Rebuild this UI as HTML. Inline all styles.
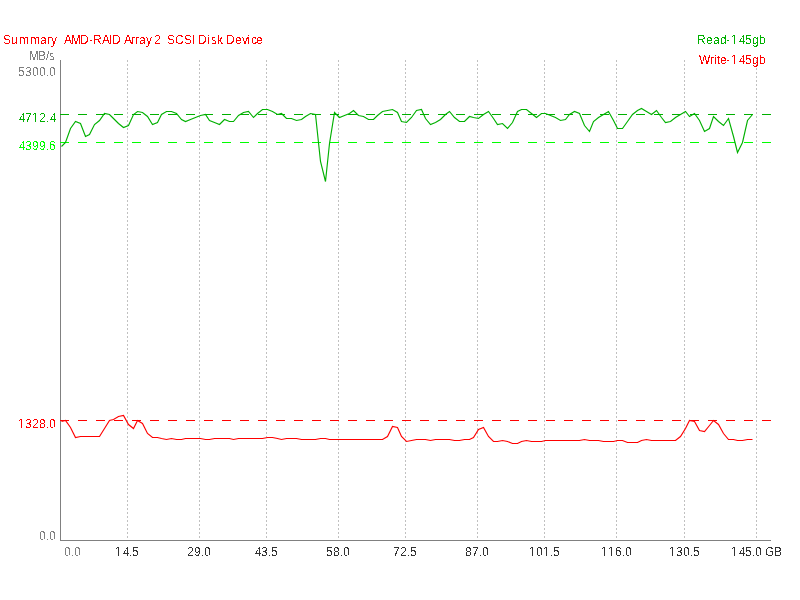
<!DOCTYPE html>
<html><head><meta charset="utf-8"><title>Summary AMD-RAID Array 2 SCSI Disk Device</title>
<style>html,body{margin:0;padding:0;background:#fff;width:800px;height:600px;overflow:hidden}svg{display:block}</style>
</head><body>
<svg width="800" height="600" viewBox="0 0 800 600">
<rect width="800" height="600" fill="#fff"/>
<defs><filter id="cr" filterUnits="userSpaceOnUse" x="0" y="0" width="800" height="600" color-interpolation-filters="sRGB"><feComponentTransfer in="SourceAlpha" result="a"><feFuncA type="discrete" tableValues="0 1"/></feComponentTransfer><feFlood flood-color="#ff0000" result="f"/><feComposite in="f" in2="a" operator="in"/></filter><filter id="cg" filterUnits="userSpaceOnUse" x="0" y="0" width="800" height="600" color-interpolation-filters="sRGB"><feComponentTransfer in="SourceAlpha" result="a"><feFuncA type="discrete" tableValues="0 1"/></feComponentTransfer><feFlood flood-color="#00b000" result="f"/><feComposite in="f" in2="a" operator="in"/></filter><filter id="cG" filterUnits="userSpaceOnUse" x="0" y="0" width="800" height="600" color-interpolation-filters="sRGB"><feComponentTransfer in="SourceAlpha" result="a"><feFuncA type="discrete" tableValues="0 1"/></feComponentTransfer><feFlood flood-color="#00ff00" result="f"/><feComposite in="f" in2="a" operator="in"/></filter><filter id="ck" filterUnits="userSpaceOnUse" x="0" y="0" width="800" height="600" color-interpolation-filters="sRGB"><feComponentTransfer in="SourceAlpha" result="a"><feFuncA type="discrete" tableValues="0 1"/></feComponentTransfer><feFlood flood-color="#808080" result="f"/><feComposite in="f" in2="a" operator="in"/></filter><filter id="cd" filterUnits="userSpaceOnUse" x="0" y="0" width="800" height="600" color-interpolation-filters="sRGB"><feComponentTransfer in="SourceAlpha" result="a"><feFuncA type="discrete" tableValues="0 1"/></feComponentTransfer><feFlood flood-color="#333333" result="f"/><feComposite in="f" in2="a" operator="in"/></filter></defs>
<line x1="127.5" y1="60" x2="127.5" y2="540" stroke="#c0c0c0" stroke-width="1" stroke-dasharray="2 2" shape-rendering="crispEdges"/>
<line x1="199.5" y1="60" x2="199.5" y2="540" stroke="#c0c0c0" stroke-width="1" stroke-dasharray="2 2" shape-rendering="crispEdges"/>
<line x1="266.5" y1="60" x2="266.5" y2="540" stroke="#c0c0c0" stroke-width="1" stroke-dasharray="2 2" shape-rendering="crispEdges"/>
<line x1="338.5" y1="60" x2="338.5" y2="540" stroke="#c0c0c0" stroke-width="1" stroke-dasharray="2 2" shape-rendering="crispEdges"/>
<line x1="405.5" y1="60" x2="405.5" y2="540" stroke="#c0c0c0" stroke-width="1" stroke-dasharray="2 2" shape-rendering="crispEdges"/>
<line x1="477.5" y1="60" x2="477.5" y2="540" stroke="#c0c0c0" stroke-width="1" stroke-dasharray="2 2" shape-rendering="crispEdges"/>
<line x1="544.5" y1="60" x2="544.5" y2="540" stroke="#c0c0c0" stroke-width="1" stroke-dasharray="2 2" shape-rendering="crispEdges"/>
<line x1="616.5" y1="60" x2="616.5" y2="540" stroke="#c0c0c0" stroke-width="1" stroke-dasharray="2 2" shape-rendering="crispEdges"/>
<line x1="684.5" y1="60" x2="684.5" y2="540" stroke="#c0c0c0" stroke-width="1" stroke-dasharray="2 2" shape-rendering="crispEdges"/>
<line x1="756.5" y1="60" x2="756.5" y2="540" stroke="#c0c0c0" stroke-width="1" stroke-dasharray="2 2" shape-rendering="crispEdges"/>
<line x1="60.5" y1="60" x2="60.5" y2="541" stroke="#808080" stroke-width="1" shape-rendering="crispEdges"/>
<line x1="60" y1="540.5" x2="771" y2="540.5" stroke="#808080" stroke-width="1" shape-rendering="crispEdges"/>
<line x1="60" y1="114.5" x2="771" y2="114.5" stroke="#00b000" stroke-width="1" stroke-dasharray="9 9" shape-rendering="crispEdges"/>
<line x1="60" y1="142.5" x2="771" y2="142.5" stroke="#00ff00" stroke-width="1" stroke-dasharray="9 9" shape-rendering="crispEdges"/>
<line x1="60" y1="420.5" x2="771" y2="420.5" stroke="#ff0000" stroke-width="1" stroke-dasharray="9 9" shape-rendering="crispEdges"/>
<polyline points="61.5,146.5 65.5,142.5 70.5,128.5 75.5,121.5 80.5,123.5 85.5,136.5 89.5,134.5 94.5,124.5 99.5,120.5 104.5,113.5 109.5,114.5 113.5,118.5 118.5,123.5 123.5,127.5 128.5,125.5 133.5,114.5 137.5,111.5 142.5,112.5 147.5,116.5 152.5,124.5 157.5,122.5 161.5,114.5 166.5,111.5 171.5,111.5 176.5,113.5 181.5,119.5 185.5,121.5 190.5,119.5 195.5,117.5 200.5,115.5 205.5,114.5 209.5,120.5 214.5,122.5 219.5,124.5 224.5,119.5 229.5,121.5 233.5,121.5 238.5,115.5 243.5,112.5 248.5,111.5 253.5,117.5 257.5,113.5 262.5,109.5 267.5,109.5 272.5,111.5 277.5,114.5 281.5,113.5 286.5,118.5 291.5,118.5 296.5,120.5 301.5,119.5 305.5,116.5 310.5,113.5 315.5,114.5 320.5,161.5 325.5,181.5 329.5,143.5 334.5,112.5 339.5,117.5 344.5,115.5 349.5,113.5 353.5,110.5 358.5,115.5 363.5,116.5 368.5,119.5 373.5,119.5 377.5,115.5 382.5,111.5 387.5,110.5 392.5,109.5 397.5,112.5 401.5,121.5 406.5,122.5 411.5,117.5 416.5,110.5 421.5,109.5 425.5,118.5 430.5,124.5 435.5,122.5 440.5,119.5 445.5,114.5 449.5,111.5 454.5,117.5 459.5,121.5 464.5,121.5 469.5,116.5 473.5,117.5 478.5,118.5 483.5,114.5 488.5,111.5 493.5,118.5 497.5,124.5 502.5,123.5 507.5,128.5 512.5,122.5 517.5,111.5 521.5,109.5 526.5,109.5 531.5,113.5 536.5,117.5 541.5,113.5 545.5,113.5 550.5,115.5 555.5,117.5 560.5,120.5 565.5,119.5 569.5,114.5 574.5,111.5 579.5,113.5 584.5,125.5 589.5,131.5 593.5,121.5 598.5,117.5 603.5,114.5 608.5,111.5 613.5,120.5 617.5,128.5 622.5,128.5 627.5,121.5 632.5,114.5 637.5,110.5 641.5,108.5 646.5,111.5 651.5,114.5 656.5,110.5 661.5,117.5 665.5,122.5 670.5,121.5 675.5,117.5 680.5,114.5 685.5,111.5 689.5,116.5 694.5,113.5 699.5,120.5 704.5,131.5 709.5,128.5 713.5,116.5 718.5,121.5 723.5,125.5 728.5,118.5 733.5,136.5 737.5,152.5 742.5,142.5 747.5,120.5 752.5,114.5" fill="none" stroke="#00b000" stroke-width="1.15"/>
<polyline points="61.5,421.5 65.5,420.5 70.5,427.5 75.5,437.5 80.5,436.5 85.5,436.5 89.5,436.5 94.5,436.5 99.5,436.5 104.5,428.5 109.5,420.5 113.5,419.5 118.5,416.5 123.5,415.5 128.5,424.5 133.5,428.5 137.5,420.5 142.5,423.5 147.5,433.5 152.5,437.5 157.5,437.5 161.5,438.5 166.5,439.5 171.5,438.5 176.5,439.5 181.5,439.5 185.5,438.5 190.5,438.5 195.5,438.5 200.5,438.5 205.5,439.5 209.5,439.5 214.5,438.5 219.5,438.5 224.5,438.5 229.5,438.5 233.5,439.5 238.5,438.5 243.5,438.5 248.5,438.5 253.5,438.5 257.5,438.5 262.5,438.5 267.5,437.5 272.5,437.5 277.5,438.5 281.5,439.5 286.5,438.5 291.5,438.5 296.5,438.5 301.5,439.5 305.5,439.5 310.5,439.5 315.5,439.5 320.5,438.5 325.5,438.5 329.5,439.5 334.5,439.5 339.5,439.5 344.5,439.5 349.5,439.5 353.5,439.5 358.5,439.5 363.5,439.5 368.5,439.5 373.5,439.5 377.5,439.5 382.5,439.5 387.5,436.5 392.5,426.5 397.5,427.5 401.5,436.5 406.5,441.5 411.5,440.5 416.5,439.5 421.5,439.5 425.5,439.5 430.5,440.5 435.5,439.5 440.5,439.5 445.5,439.5 449.5,439.5 454.5,440.5 459.5,440.5 464.5,439.5 469.5,439.5 473.5,437.5 478.5,429.5 483.5,427.5 488.5,436.5 493.5,441.5 497.5,441.5 502.5,440.5 507.5,441.5 512.5,443.5 517.5,443.5 521.5,441.5 526.5,440.5 531.5,441.5 536.5,441.5 541.5,441.5 545.5,440.5 550.5,440.5 555.5,440.5 560.5,440.5 565.5,440.5 569.5,440.5 574.5,440.5 579.5,440.5 584.5,439.5 589.5,440.5 593.5,440.5 598.5,440.5 603.5,441.5 608.5,441.5 613.5,441.5 617.5,440.5 622.5,440.5 627.5,442.5 632.5,442.5 637.5,442.5 641.5,440.5 646.5,439.5 651.5,440.5 656.5,440.5 661.5,440.5 665.5,440.5 670.5,440.5 675.5,440.5 680.5,436.5 685.5,428.5 689.5,420.5 694.5,421.5 699.5,430.5 704.5,431.5 709.5,425.5 713.5,420.5 718.5,424.5 723.5,433.5 728.5,439.5 733.5,439.5 737.5,440.5 742.5,440.5 747.5,439.5 752.5,439.5" fill="none" stroke="#ff0000" stroke-width="1.15"/>
<text x="3 11 19 30 40 47 51 56 59 64 71 80 89 93 102 109 112 120 124 131 135 139 146 151 154 160 163 167 175 184 192 194 198 207 211 217 223 226 235 242 247 251 256" y="44" font-family="Liberation Sans, Arial, sans-serif" font-size="12" fill="#000" style="white-space:pre" filter="url(#cr)">Summary  AMD-RAID Array 2  SCSI Disk Device</text>
<text x="697 706 713 720 726 731 739 745 752 759" y="44" font-family="Liberation Sans, Arial, sans-serif" font-size="12" fill="#000" style="white-space:pre" filter="url(#cg)">Read-145gb</text>
<text x="699 710 714 717 720 726 731 739 745 752 759" y="64" font-family="Liberation Sans, Arial, sans-serif" font-size="12" fill="#000" style="white-space:pre" filter="url(#cr)">Write-145gb</text>
<text x="29 38 46 49" y="60" font-family="Liberation Sans, Arial, sans-serif" font-size="12" fill="#000" style="white-space:pre" filter="url(#ck)">MB/s</text>
<text x="18 25 32 39 46 49" y="76" font-family="Liberation Sans, Arial, sans-serif" font-size="12" fill="#000" style="white-space:pre" filter="url(#ck)">5300.0</text>
<text x="19 25 32 39 46 50" y="122" font-family="Liberation Sans, Arial, sans-serif" font-size="12" fill="#000" style="white-space:pre" filter="url(#cg)">4712.4</text>
<text x="19 25 32 39 46 49" y="150" font-family="Liberation Sans, Arial, sans-serif" font-size="12" fill="#000" style="white-space:pre" filter="url(#cG)">4399.6</text>
<text x="18 25 32 39 46 49" y="428" font-family="Liberation Sans, Arial, sans-serif" font-size="12" fill="#000" style="white-space:pre" filter="url(#cr)">1328.0</text>
<text x="39 46 49" y="540" font-family="Liberation Sans, Arial, sans-serif" font-size="12" fill="#000" style="white-space:pre" filter="url(#ck)">0.0</text>
<text x="64 71 74" y="556" font-family="Liberation Sans, Arial, sans-serif" font-size="12" fill="#000" style="white-space:pre" filter="url(#ck)">0.0</text>
<text x="115 123 129 132" y="556" font-family="Liberation Sans, Arial, sans-serif" font-size="12" fill="#000" style="white-space:pre" filter="url(#cd)">14.5</text>
<text x="187 194 201 204" y="556" font-family="Liberation Sans, Arial, sans-serif" font-size="12" fill="#000" style="white-space:pre" filter="url(#cd)">29.0</text>
<text x="255 261 268 271" y="556" font-family="Liberation Sans, Arial, sans-serif" font-size="12" fill="#000" style="white-space:pre" filter="url(#cd)">43.5</text>
<text x="326 333 340 343" y="556" font-family="Liberation Sans, Arial, sans-serif" font-size="12" fill="#000" style="white-space:pre" filter="url(#cd)">58.0</text>
<text x="393 400 407 410" y="556" font-family="Liberation Sans, Arial, sans-serif" font-size="12" fill="#000" style="white-space:pre" filter="url(#cd)">72.5</text>
<text x="465 472 479 482" y="556" font-family="Liberation Sans, Arial, sans-serif" font-size="12" fill="#000" style="white-space:pre" filter="url(#cd)">87.0</text>
<text x="529 536 543 550 553" y="556" font-family="Liberation Sans, Arial, sans-serif" font-size="12" fill="#000" style="white-space:pre" filter="url(#cd)">101.5</text>
<text x="601 608 615 622 625" y="556" font-family="Liberation Sans, Arial, sans-serif" font-size="12" fill="#000" style="white-space:pre" filter="url(#cd)">116.0</text>
<text x="669 676 683 690 693" y="556" font-family="Liberation Sans, Arial, sans-serif" font-size="12" fill="#000" style="white-space:pre" filter="url(#cd)">130.5</text>
<text x="731 739 745 752 755 762 765 774" y="556" font-family="Liberation Sans, Arial, sans-serif" font-size="12" fill="#000" style="white-space:pre" filter="url(#cd)">145.0 GB</text>
<path d="M732 43h2v1h-2zM735 43h2v1h-2z" fill="#fff"/>
<path d="M732 63h2v1h-2zM735 63h2v1h-2z" fill="#fff"/>
<path d="M33 121h2v1h-2zM36 121h2v1h-2z" fill="#fff"/>
<path d="M19 427h2v1h-2zM22 427h2v1h-2z" fill="#fff"/>
<path d="M116 555h2v1h-2zM119 555h2v1h-2z" fill="#fff"/>
<path d="M530 555h2v1h-2zM533 555h2v1h-2z" fill="#fff"/>
<path d="M544 555h2v1h-2zM547 555h2v1h-2z" fill="#fff"/>
<path d="M602 555h2v1h-2zM605 555h2v1h-2z" fill="#fff"/>
<path d="M609 555h2v1h-2zM612 555h2v1h-2z" fill="#fff"/>
<path d="M670 555h2v1h-2zM673 555h2v1h-2z" fill="#fff"/>
<path d="M732 555h2v1h-2zM735 555h2v1h-2z" fill="#fff"/>
</svg>
</body></html>
